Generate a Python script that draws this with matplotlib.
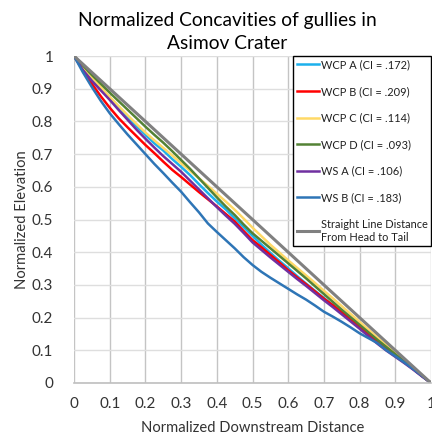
import matplotlib
matplotlib.use("Agg")
import matplotlib.pyplot as plt

plt.rcParams['font.family'] = ['Lato', 'DejaVu Sans']

dist = [0, .025, .05, .075, .1, .125, .15, .175, .2, .225, .25, .275, .3, .325, .35, .375,
        .4, .425, .45, .475, .5, .525, .55, .575, .6, .625, .65, .675, .7, .725, .75, .775,
        .8, .825, .85, .875, .9, .925, .95, .975, 1]

wcp_a = [1, .965, .932, .901, .870, .843, .813, .785, .759, .733, .711, .685, .661, .636, .608, .581,
         .555, .531, .504, .477, .450, .423, .398, .374, .351, .327, .304, .282, .260, .238, .215, .193,
         .172, .150, .128, .106, .085, .064, .043, .021, 0]
wcp_b = [1, .957, .915, .877, .842, .810, .782, .755, .728, .703, .677, .652, .630, .607, .584, .562,
         .540, .517, .494, .465, .437, .415, .392, .369, .345, .323, .302, .280, .258, .238, .217, .195,
         .173, .150, .128, .105, .085, .064, .043, .021, 0]
wcp_c = [1, .967, .935, .905, .875, .847, .819, .792, .766, .742, .719, .696, .672, .649, .626, .603,
         .579, .555, .530, .503, .475, .449, .423, .399, .375, .352, .329, .306, .282, .259, .235, .211,
         .187, .163, .139, .115, .092, .069, .046, .023, 0]
wcp_d = [1, .971, .942, .915, .888, .862, .836, .810, .784, .759, .735, .709, .682, .655, .626, .597,
         .568, .540, .514, .485, .458, .435, .412, .389, .366, .343, .320, .296, .272, .248, .224, .201,
         .178, .155, .132, .110, .088, .066, .044, .022, 0]
ws_a = [1, .957, .924, .895, .866, .835, .805, .775, .747, .720, .694, .670, .646, .619, .592, .565,
        .538, .512, .487, .459, .430, .407, .384, .362, .340, .318, .297, .275, .253, .232, .210, .188,
        .166, .143, .120, .099, .080, .061, .041, .020, 0]
ws_b = [1, .950, .905, .863, .825, .792, .760, .730, .700, .670, .642, .613, .585, .553, .522, .488,
        .462, .437, .412, .385, .361, .340, .322, .305, .288, .271, .255, .237, .218, .203, .187, .170,
        .152, .137, .122, .100, .082, .063, .043, .022, 0]
straight_x = [0, 1]
straight_y = [1, 0]

labels = ["WCP A (CI = .172)", "WCP B (CI = .209)", "WCP C (CI = .114)", "WCP D (CI = .093)",
          "WS A (CI = .106)", "WS B (CI = .183)", "Straight Line Distance\nFrom Head to Tail"]
colors = ["#1cb0ec", "#ff0000", "#ffd966", "#548235", "#7030a0", "#2e75b6", "#808080"]

fig = plt.figure(figsize=(4.32, 4.34), dpi=100)
ax = fig.add_axes([74/432, 1-383/434, 357/432, 327/434])

series = [wcp_a, wcp_b, wcp_c, wcp_d, ws_a, ws_b]
for ys, lab, c in zip(series, labels[:6], colors[:6]):
    ax.plot(dist, ys, color=c, lw=1.8, label=lab)
ax.plot(straight_x, straight_y, color=colors[6], lw=2.2, label=labels[6])

ax.set_xlim(0, 1)
ax.set_ylim(0, 1)
ticks = [0, .1, .2, .3, .4, .5, .6, .7, .8, .9, 1]
ticklabels = ["0", "0.1", "0.2", "0.3", "0.4", "0.5", "0.6", "0.7", "0.8", "0.9", "1"]
ax.set_xticks(ticks)
ax.set_xticklabels(ticklabels)
ax.set_yticks(ticks)
ax.set_yticklabels(ticklabels)
ax.tick_params(length=0, labelsize=11, colors="#333333", pad=10)
ax.tick_params(axis='y', pad=15)
for s in ["top", "right", "left"]:
    ax.spines[s].set_visible(False)
ax.spines["bottom"].set_color("#bfbfbf")
ax.spines["bottom"].set_linewidth(1.2)
ax.grid(axis='x', color="#c4c4c4", lw=1.0)
ax.grid(axis='y', color="#dedede", lw=1.0)
ax.set_axisbelow(True)

ax.set_xlabel("Normalized Downstream Distance", fontsize=10.6, color="#333333")
ax.set_ylabel("Normalized Elevation", fontsize=10.6, color="#333333")
ax.xaxis.set_label_coords(0.5, -0.115)
ax.yaxis.set_label_coords(-0.127, 0.5)

fig.text(227/432, 1-12/434, "Normalized Concavities of gullies in\nAsimov Crater",
         ha="center", va="top", fontsize=13.8, color="#000000", linespacing=1.45)

leg = ax.legend(loc="upper right", bbox_to_anchor=(1.0, 1.0), fontsize=7.9, frameon=True,
                fancybox=False, framealpha=1, edgecolor="black", borderpad=0.3,
                labelspacing=1.42, handlelength=2.0, handletextpad=0.2, borderaxespad=0.0)
leg.get_frame().set_linewidth(1.0)
for t in leg.get_texts():
    t.set_color("#202020")

fig.savefig("out.png", dpi=100)
